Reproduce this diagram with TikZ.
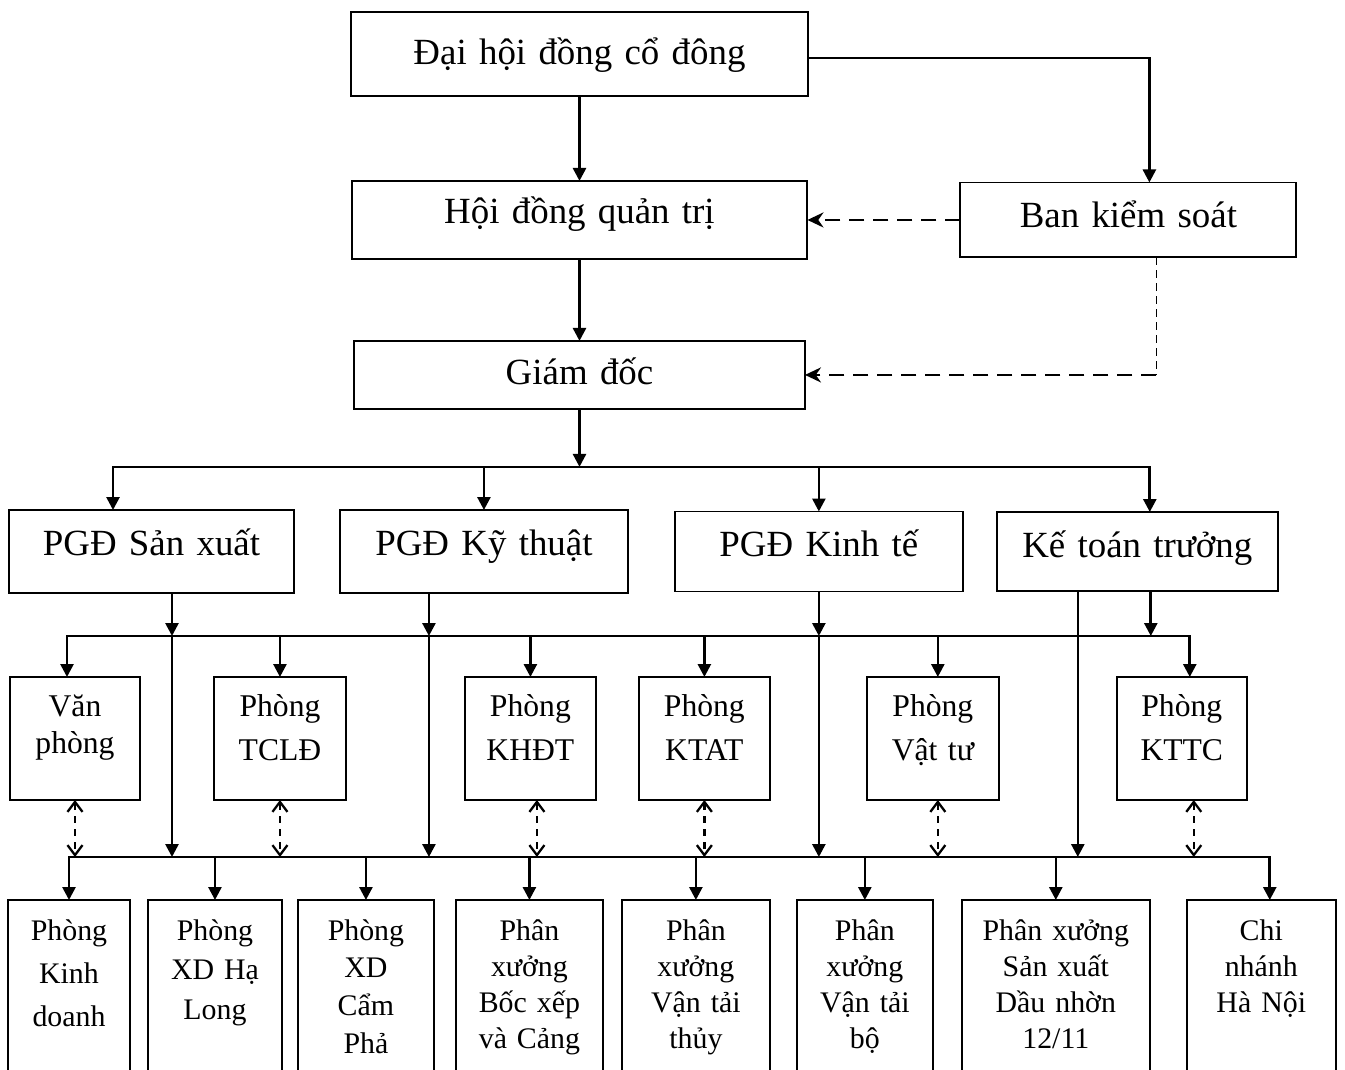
\documentclass[tikz,border=0pt]{standalone}
\usepackage{fontspec}
\setmainfont{Liberation Serif}
\usetikzlibrary{
  arrows.meta, % for the Triangle, Stealth and Straight Barb tips
  positioning, % for relative positioning of the boxes in a row
}
\tikzset{
  box/.style={ % style for every box
    rectangle,draw,line width=1.1pt, % drawn as a plain rectangle
    inner sep=0pt, % the box is exactly text width x (text height + text depth)
    outer sep=0pt, % distances are taken from the border line itself
    align=center, % centred lines
  },
  chief/.style={ % style for the upper boxes
    box, % inherit the box style
    font=\fontsize{21}{25}\selectfont,
  },
  office/.style={ % style for the departments under the deputies
    box,
    font=\fontsize{18}{25.5}\selectfont,
    text height=0.78cm, % first baseline below the top edge
    text depth=1.68cm, % rest of the box
  },
  unit/.style={ % style for the workshops on the last row
    box,
    font=\fontsize{17}{20.5}\selectfont,
    text height=0.8cm,
    text depth=4cm, % runs past the lower edge of the page
  },
  conn/.style={ % style for the connections
    -{Triangle[length=0.26cm,width=0.26cm]}, % filled arrow tip
    line width=1.5pt,
  },
  report/.style={ % dashed connection of the Ban kiem soat
    -{Stealth[length=0.32cm,width=0.3cm]},
    line width=1.5pt,
    dash pattern=on 0.3cm off 0.18cm,
  },
  guide/.style={ % thin dashed line
    line width=0.7pt,
    dash pattern=on 0.16cm off 0.1cm,
  },
  feedback/.style={ % two-way dashed connection
    {Straight Barb[length=0.2cm,width=0.3cm]}-{Straight Barb[length=0.2cm,width=0.3cm]},
    line width=1.3pt,
    dash pattern=on 0.14cm off 0.12cm,
  },
}

\begin{document}
\begin{tikzpicture}[x=0.02cm,y=-0.02cm]

	\useasboundingbox (0,0) rectangle (1345,1069);
	\clip (0,0) rectangle (1345,1069);

	\node[chief,text width=9.14cm,text height=1.06cm,text depth=0.62cm,anchor=north] (dh) at (579.5,12) {Đại hội đồng cổ đông};
	\node[chief,text width=9.12cm,text height=0.86cm,text depth=0.7cm,below=1.7cm of dh] (hdqt) {Hội đồng quản trị};
	\node[chief,text width=6.72cm,text height=0.9cm,text depth=0.6cm,right=3.06cm of hdqt] (bks) {Ban kiểm soát};
	\node[chief,text width=9.02cm,text height=0.88cm,text depth=0.48cm,below=1.64cm of hdqt] (gd) {Giám đốc};

	\node[chief,text width=5.7cm,text height=0.9cm,text depth=0.76cm,anchor=north] (pgdsx) at (151.5,510) {PGĐ Sản xuất};
	\node[chief,text width=5.76cm,text height=0.9cm,text depth=0.76cm,right=0.92cm of pgdsx] (pgdkt) {PGĐ Kỹ thuật};
	\node[chief,text width=5.76cm,text height=0.9cm,text depth=0.7cm,right=0.94cm of pgdkt] (pgdkte) {PGĐ Kinh tế};
	\node[chief,text width=5.62cm,text height=0.9cm,text depth=0.68cm,right=0.68cm of pgdkte] (ktt) {Kế toán trưởng};

	\node[office,text width=2.6cm,anchor=north] (vp) at (75,677) {Văn\\[-4pt]phòng};
	\node[office,text width=2.64cm,right=1.48cm of vp] (tcld) {Phòng\\TCLĐ};
	\node[office,text width=2.62cm,right=2.38cm of tcld] (khdt) {Phòng\\KHĐT};
	\node[office,text width=2.62cm,right=0.86cm of khdt] (ktat) {Phòng\\KTAT};
	\node[office,text width=2.64cm,right=1.94cm of ktat] (vattu) {Phòng\\Vật tư};
	\node[office,text width=2.6cm,right=2.36cm of vattu] (kttc) {Phòng\\KTTC};

	\node[unit,text width=2.44cm,anchor=north] (kd) at (69,900) {Phòng\\[4pt]Kinh\\[4pt]doanh};
	\node[unit,text width=2.68cm,right=0.36cm of kd] (xdhl) {Phòng\\[2pt]XD Hạ\\[2pt]Long};
	\node[unit,text width=2.72cm,right=0.32cm of xdhl] (xdcp) {Phòng\\[1pt]XD\\[1pt]Cẩm\\[1pt]Phả};
	\node[unit,text width=2.94cm,right=0.44cm of xdcp] (bxc) {Phân\\xưởng\\Bốc xếp\\và Cảng};
	\node[unit,text width=2.96cm,right=0.38cm of bxc] (vtt) {Phân\\xưởng\\Vận tải\\thủy};
	\node[unit,text width=2.72cm,right=0.54cm of vtt] (vtb) {Phân\\xưởng\\Vận tải\\bộ};
	\node[unit,text width=3.76cm,right=0.58cm of vtb] (dn) {Phân xưởng\\Sản xuất\\Dầu nhờn\\12/11};
	\node[unit,text width=2.98cm,right=0.74cm of dn] (cn) {Chi\\nhánh\\Hà Nội};

	% levels of the three busses
	\coordinate (busA) at ([yshift=-1.16cm]gd.south);
	\coordinate (busB) at (0,636);
	\coordinate (busC) at (0,857);

	\draw[conn] (dh.south) -- (dh.south |- hdqt.north);
	\draw[conn] ([yshift=-0.08cm]dh.east) -| ([xshift=0.42cm]bks.north);
	\draw[report] (bks.west) -- (hdqt.east);
	\draw[conn] (hdqt.south) -- (hdqt.south |- gd.north);

	\coordinate (bksdrop) at ([xshift=0.56cm]bks.south);
	\draw[guide] (bksdrop) -- (bksdrop |- gd.east);
	\draw[report] (bksdrop |- gd.east) -- (gd.east);

	\draw[conn] (gd.south) -- (busA);
	\draw[conn] (busA) -| ([xshift=-0.77cm]pgdsx.north);
	\draw[conn] (busA) -| (pgdkt.north);
	\draw[conn] (busA) -| (pgdkte.north);
	\draw[conn] (busA) -| ([xshift=0.25cm]ktt.north);

	\coordinate (sxdrop) at ([xshift=0.41cm]pgdsx.south);
	\coordinate (ktdrop) at ([xshift=-1.1cm]pgdkt.south);
	\coordinate (ktedrop) at (pgdkte.south);
	\coordinate (kttdrop) at ([xshift=-1.19cm]ktt.south);
	\coordinate (kttcdrop) at ([xshift=0.27cm]ktt.south);

	\draw[conn] (sxdrop) -- (sxdrop |- busB);
	\draw[conn] (sxdrop |- busB) -- (sxdrop |- busC);

	\draw[conn] (ktdrop) -- (ktdrop |- busB);
	\draw[conn] (ktdrop |- busB) -- (ktdrop |- busC);

	\draw[conn] (ktedrop) -- (ktedrop |- busB);
	\draw[conn] (ktedrop |- busB) -- (ktedrop |- busC);

	\draw[conn] (kttdrop) -- (kttdrop |- busC);
	\draw[conn] (kttcdrop) -- (kttcdrop |- busB);

	\draw[conn] (sxdrop |- busB) -| ([xshift=-0.16cm]vp.north);
	\draw[conn] (sxdrop |- busB) -| (tcld.north);
	\draw[conn] (sxdrop |- busB) -| (khdt.north);
	\draw[conn] (sxdrop |- busB) -| (ktat.north);
	\draw[conn] (sxdrop |- busB) -| ([xshift=0.1cm]vattu.north);
	\draw[conn] (sxdrop |- busB) -| ([xshift=0.16cm]kttc.north);

	\coordinate (khdtlink) at ([xshift=0.13cm]khdt.south);
	\coordinate (vattulink) at ([xshift=0.1cm]vattu.south);
	\coordinate (kttclink) at ([xshift=0.24cm]kttc.south);

	\draw[feedback] (vp.south) -- (vp.south |- busC);
	\draw[feedback] (tcld.south) -- (tcld.south |- busC);
	\draw[feedback] (khdtlink) -- (khdtlink |- busC);
	\draw[feedback] (ktat.south) -- (ktat.south |- busC);
	\draw[feedback] (vattulink) -- (vattulink |- busC);
	\draw[feedback] (kttclink) -- (kttclink |- busC);

	\draw[conn] (sxdrop |- busC) -| (kd.north);
	\draw[conn] (sxdrop |- busC) -| (xdhl.north);
	\draw[conn] (sxdrop |- busC) -| (xdcp.north);
	\draw[conn] (sxdrop |- busC) -| (bxc.north);
	\draw[conn] (sxdrop |- busC) -| (vtt.north);
	\draw[conn] (sxdrop |- busC) -| (vtb.north);
	\draw[conn] (sxdrop |- busC) -| (dn.north);
	\draw[conn] (sxdrop |- busC) -| ([xshift=0.17cm]cn.north);

\end{tikzpicture}
\end{document}
